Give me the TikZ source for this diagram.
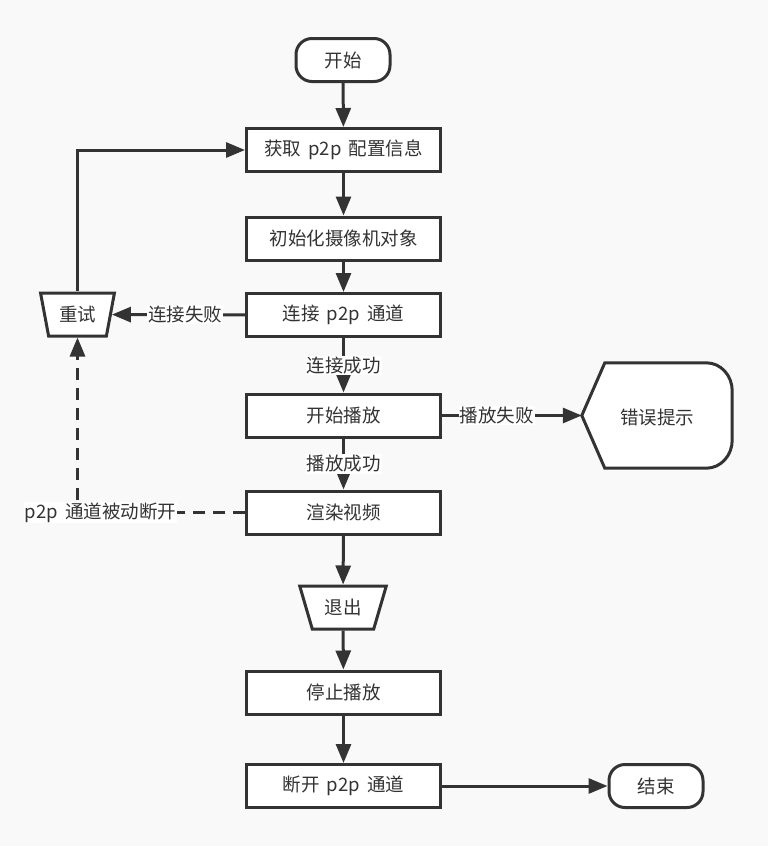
\documentclass[tikz,border=0pt]{standalone}
\usepackage{fontspec}
\setmainfont{Noto Sans CJK SC}
\usetikzlibrary{shapes.geometric,arrows.meta}
\definecolor{ink}{HTML}{333333}
\definecolor{bgc}{HTML}{F9F9F9}
\newcommand\wsp{\hspace{7pt}}
\begin{document}
\begin{tikzpicture}[x=1pt,y=-1pt,
 every node/.style={font=\fontsize{18.5}{22}\selectfont, text=ink},
 box/.style={draw=ink, line width=3pt, fill=white, minimum width=194pt, minimum height=43pt, inner sep=0pt},
 term/.style={box, rounded corners=16pt, minimum width=94pt},
 trap/.style={draw=ink, line width=3pt, fill=white, trapezium, shape border rotate=180, trapezium stretches=true, minimum height=43pt, inner sep=0pt},
 lbl/.style={fill=white, inner sep=1pt},
 arr/.style={draw=ink, line width=3pt, -{Triangle[length=19pt,width=15pt]}},
 dsh/.style={arr, dash pattern=on 12pt off 8pt},
 shp/.style={draw=ink, line width=3pt, fill=white},
]
\fill[bgc] (0,0) rectangle (768,846);
\useasboundingbox (0,0) rectangle (768,846);

\node[term] (start) at (343,60) {开始};
\node[box] (cfg) at (343.5,150) {获取\wsp p2p\wsp 配置信息};
\node[box] (init) at (343.5,238.5) {初始化摄像机对象};
\node[box] (conn) at (343.5,315) {连接\wsp p2p\wsp 通道};
\node[box] (play) at (343.5,415.5) {开始播放};
\node[box] (rend) at (343.5,512.5) {渲染视频};
\node[trap, trapezium angle=66, minimum width=87pt] (quit) at (343,607.5) {退出};
\node[box] (stop) at (343.5,692.5) {停止播放};
\node[box] (disc) at (343.5,786) {断开\wsp p2p\wsp 通道};
\node[term] (end) at (656,786) {结束};
\node[trap, trapezium angle=73, minimum width=74pt] (retry) at (77.5,314.5) {重试};

\node[minimum width=150pt, minimum height=105pt, inner sep=0pt] (err) at (657,415.5) {};
\draw[shp] (err.west) -- ([xshift=23pt]err.north west) -- ([xshift=-26pt]err.north east)
  to[out=0,in=90] ([yshift=-28pt]err.north east) -- ([yshift=28pt]err.south east)
  to[out=-90,in=0] ([xshift=-26pt]err.south east) -- ([xshift=23pt]err.south west) -- cycle;
\node (errtxt) at ([yshift=-2pt]err.center) {错误提示};

\draw[arr] (start) -- (cfg);
\draw[arr] (cfg) -- (init);
\draw[arr] (init) -- (conn);
\draw[arr] (conn) -- node[lbl]{连接成功} (play);
\draw[arr] (play) -- node[lbl]{播放成功} (rend);
\draw[arr] (rend) -- (quit);
\draw[arr] (quit) -- (stop);
\draw[arr] (stop) -- (disc);
\draw[arr] (disc) -- (end);
\draw[arr] (conn) -- node[lbl, pos=0.45]{连接失败} (retry);
\draw[arr] (play) -- node[lbl, pos=0.39]{播放失败} (err.west);
\draw[arr] (retry) |- (cfg);
\draw[dsh] (rend) -| node[lbl, pos=0.5, xshift=23pt]{p2p\wsp 通道被动断开} (retry);
\end{tikzpicture}
\end{document}
